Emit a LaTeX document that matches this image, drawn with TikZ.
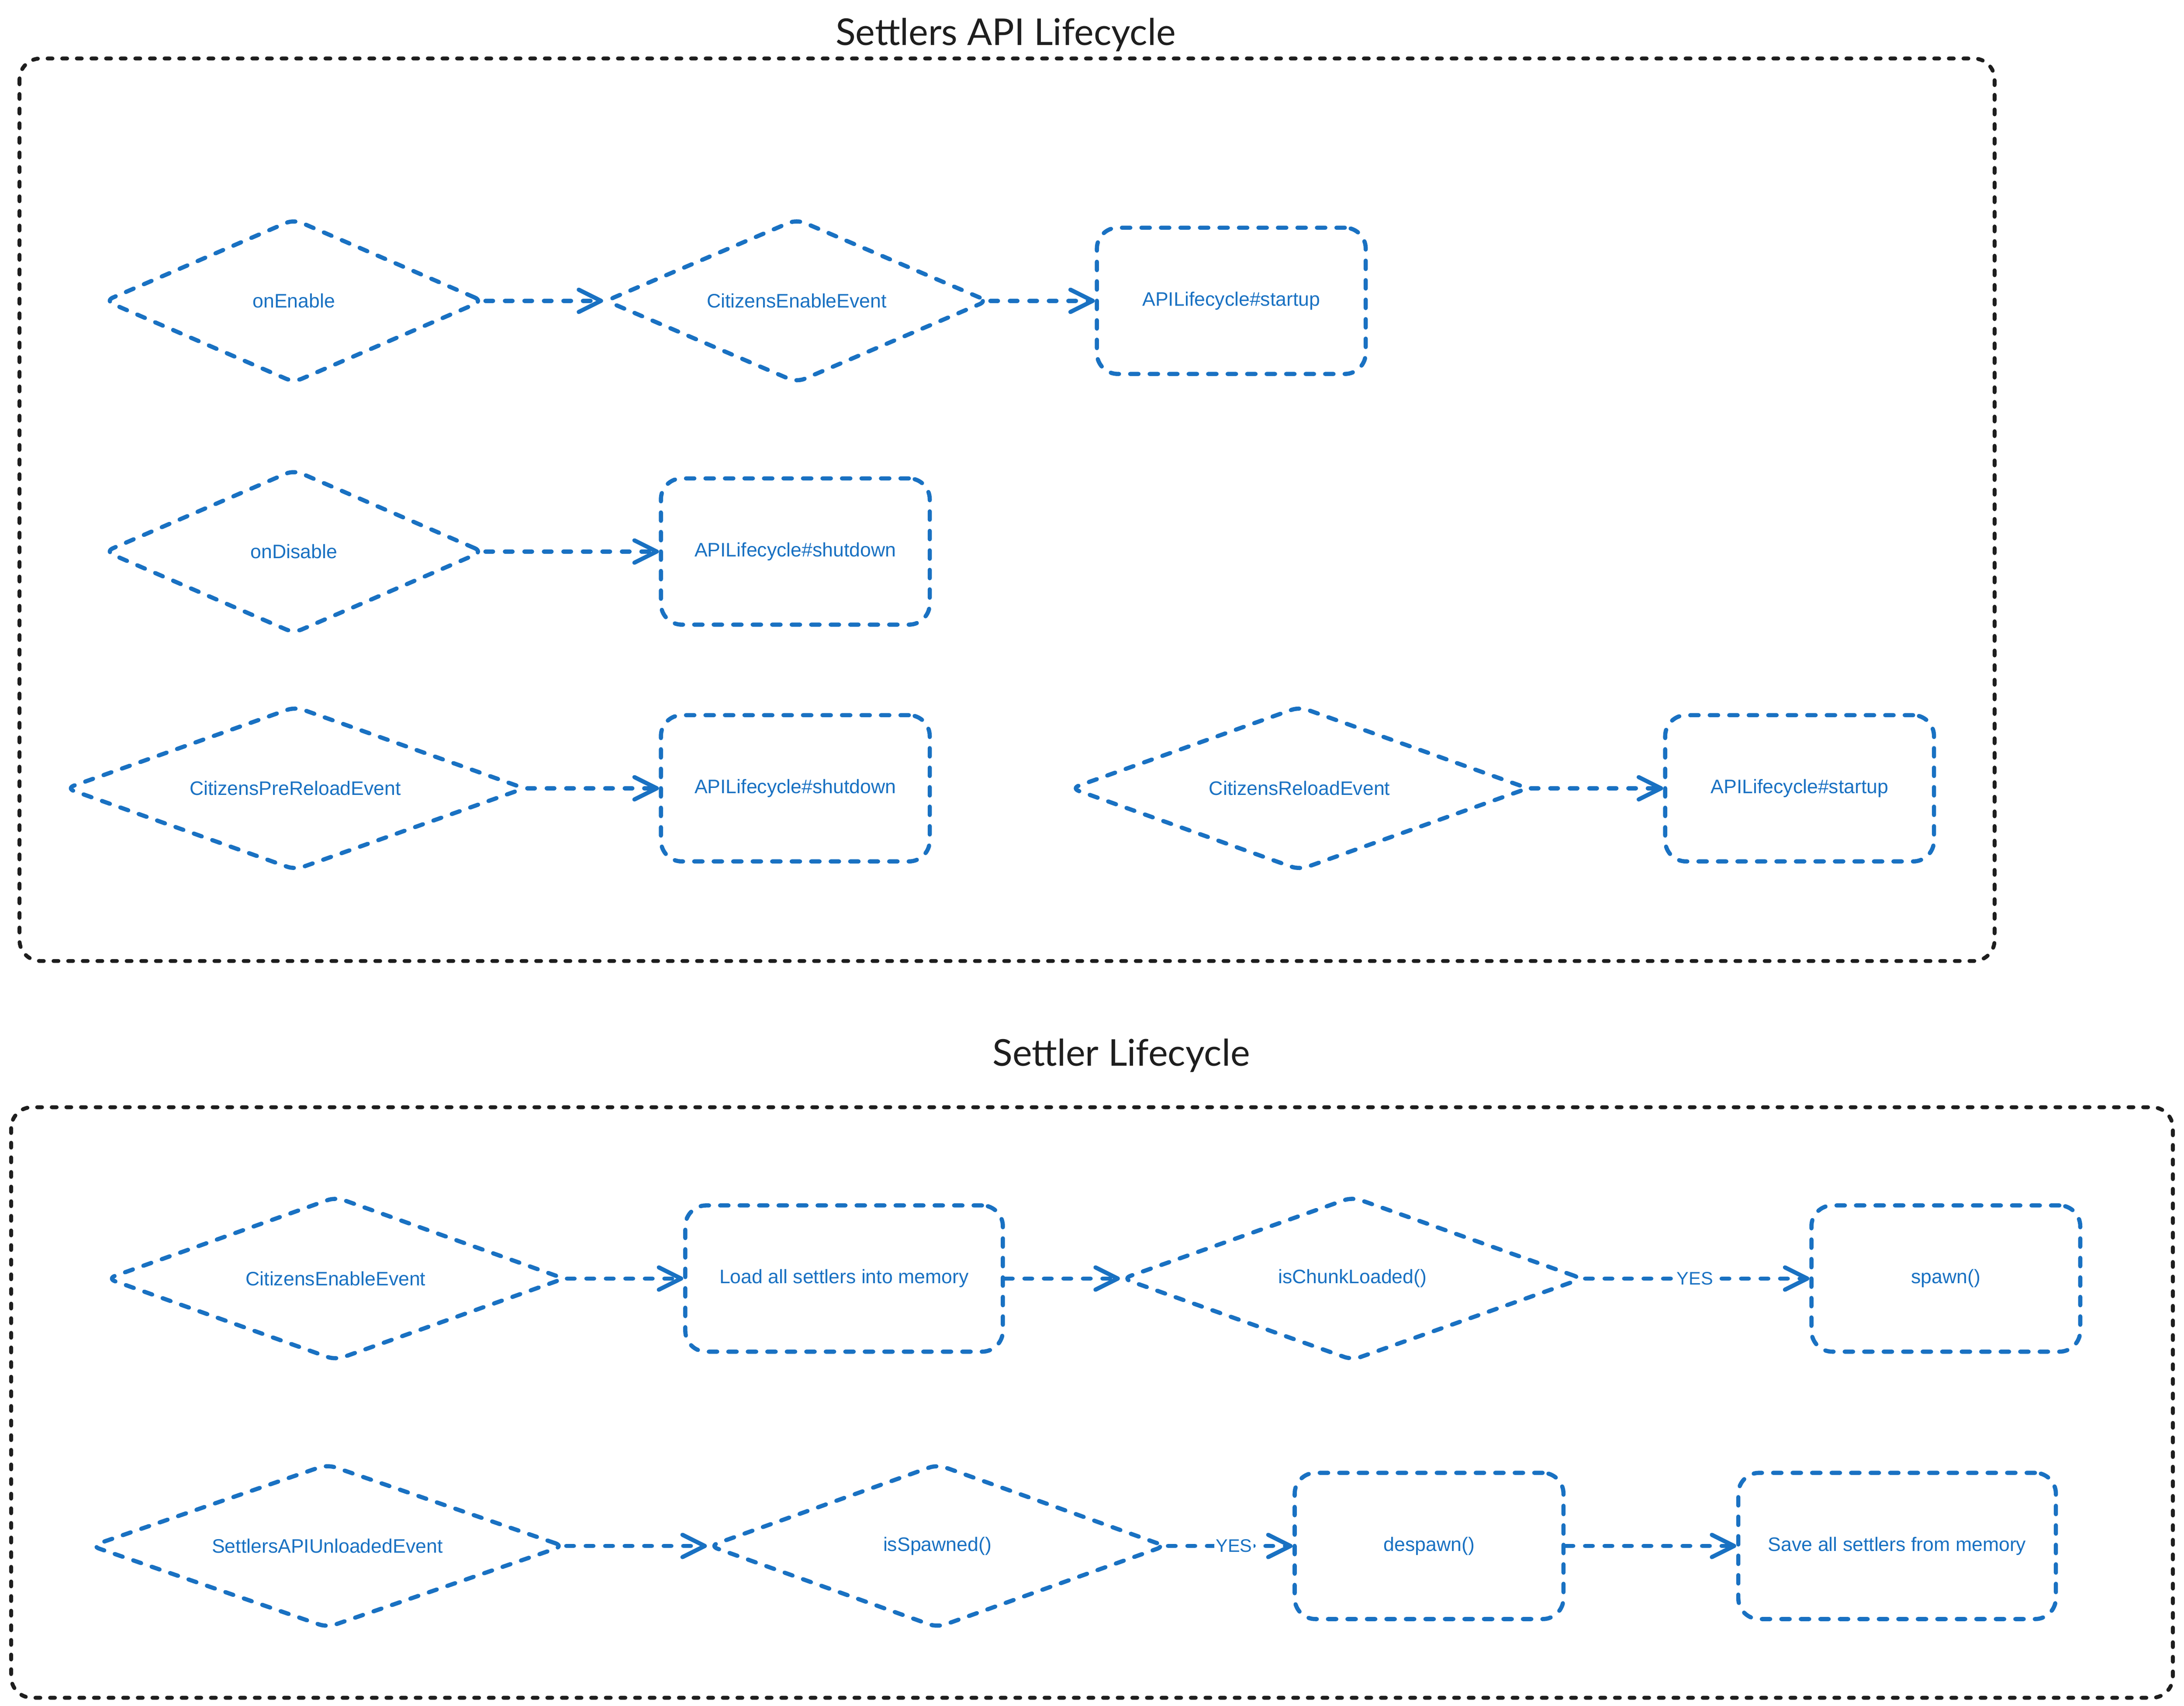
\documentclass[tikz,border=0pt]{standalone}
\usepackage{fontspec}
\setmainfont{Liberation Sans}
\newfontfamily\titlefont{Lato}
\usetikzlibrary{shapes.geometric}
\usetikzlibrary{arrows.meta}
\definecolor{flowblue}{HTML}{1971C2}
\definecolor{framegray}{HTML}{1E1E1E}

\begin{document}
\begin{tikzpicture}[x=1pt,y=-1pt,
        event/.style={diamond, aspect=2.8, rounded corners=6pt, draw=flowblue, line width=3pt,
            line cap=round, dash pattern=on 6pt off 8pt, text=flowblue,
            font=\fontsize{14}{16}\selectfont, inner sep=0pt, minimum width=272pt, minimum height=118pt},
        action/.style={rectangle, rounded corners=15pt, draw=flowblue, line width=3pt,
            line cap=round, dash pattern=on 6pt off 8pt, text=flowblue,
            font=\fontsize{14}{16}\selectfont, minimum width=193pt, minimum height=105pt},
        flow/.style={draw=flowblue, line width=3pt, line cap=round, dash pattern=on 5.5pt off 8.5pt,
            -{Straight Barb[length=16pt,width=16pt,round]}},
        yes/.style={fill=white, text=flowblue, inner sep=1pt, font=\fontsize{13}{15}\selectfont},
        frame/.style={draw=framegray, line width=2.8pt, line cap=round, dash pattern=on 3.5pt off 7pt,
            rounded corners=15pt},
        heading/.style={text=framegray, font=\titlefont\fontsize{26.5}{30}\selectfont},
    ]
    \useasboundingbox (0,0) rectangle (1568,1224.8);
    % API lifecycle
    \node[heading] (apititle) at (722,25) {Settlers API Lifecycle};
    \draw[frame] (14,42) rectangle (1432,690);
    \node[event] (enable) at (211,216) {onEnable};
    \node[event, minimum width=275pt] (citenable) at (572,216) {CitizensEnableEvent};
    \node[action] (startup) at (884,216) {APILifecycle\#startup};
    \node[event] (disable) at (211,396) {onDisable};
    \node[action] (shutdown) at (571,396) {APILifecycle\#shutdown};
    \node[event, minimum width=330pt] (prereload) at (212,566) {CitizensPreReloadEvent};
    \node[action] (reshutdown) at (571,566) {APILifecycle\#shutdown};
    \node[event, minimum width=329pt] (reload) at (933,566) {CitizensReloadEvent};
    \node[action] (restartup) at (1292,566) {APILifecycle\#startup};
    \draw[flow] (enable) -- (citenable);
    \draw[flow] (citenable) -- (startup);
    \draw[flow] (disable) -- (shutdown);
    \draw[flow] (prereload) -- (reshutdown);
    \draw[flow] (reload) -- (restartup);
    % settler lifecycle
    \node[heading] (settlertitle) at (805,758) {Settler Lifecycle};
    \draw[frame] (8,795) rectangle (1560,1219);
    \node[event, minimum width=329pt] (load) at (241,918) {CitizensEnableEvent};
    \node[action, minimum width=228pt] (memory) at (606,918) {Load all settlers into memory};
    \node[event, minimum width=331pt] (chunk) at (971,918) {isChunkLoaded()};
    \node[action] (spawn) at (1397,918) {spawn()};
    \node[event, minimum width=340pt] (unload) at (235,1110) {SettlersAPIUnloadedEvent};
    \node[event, minimum width=328pt] (spawned) at (673,1110) {isSpawned()};
    \node[action] (despawn) at (1026,1110) {despawn()};
    \node[action, minimum width=228pt] (save) at (1362,1110) {Save all settlers from memory};
    \draw[flow] (load) -- (memory);
    \draw[flow] (memory) -- (chunk);
    \draw[flow] (chunk) -- node[yes, pos=0.49] {YES} (spawn);
    \draw[flow] (unload) -- (spawned);
    \draw[flow] (spawned) -- node[yes, pos=0.53] {YES} (despawn);
    \draw[flow] (despawn) -- (save);
\end{tikzpicture}
\end{document}
